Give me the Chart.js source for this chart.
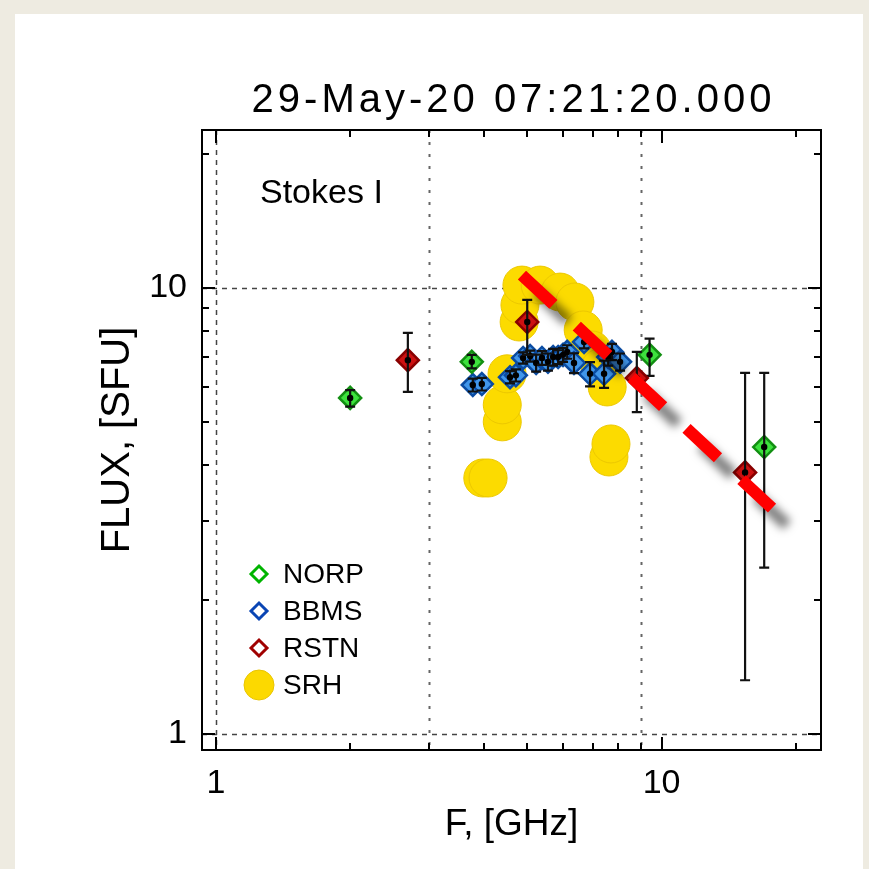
<!DOCTYPE html>
<html>
<head>
<meta charset="utf-8">
<script src="https://cdn.jsdelivr.net/npm/chart.js@4.4.1/dist/chart.umd.min.js"></script>
<style>
  html, body { margin: 0; padding: 0; background: #eeebe1; }
  #paper { position: absolute; left: 15px; top: 14px; width: 848px; height: 855px; background: #ffffff; }
  #chart { position: absolute; left: 0; top: 0; }
</style>
</head>
<body>
<div id="paper"></div>
<canvas id="chart" width="869" height="869"></canvas>
<script>
/*
  spectrum at 29-May-20 07:21:20 UT, Stokes I
  - NORP / BBMS / RSTN points with error bars
  - SRH points
  - power-law fit (red dashes)
*/

// ---- data ----
const titleText = '29-May-20 07:21:20.000';

const norpFreq = [2.0, 3.75, 9.4, 17.0];
const norpFlux = [5.67, 6.83, 7.08, 4.40];
const norpLo   = [5.42, 6.60, 6.35, 2.36];
const norpHi   = [5.90, 7.08, 7.70, 6.45];

const rstnFreq = [2.695, 4.995, 8.8, 15.4];
const rstnFlux = [6.89, 8.39, 6.28, 3.86];
const rstnLo   = [5.85, 7.08, 5.27, 1.32];
const rstnHi   = [7.93, 9.40, 7.19, 6.45];

const bbmsFreq = [3.77, 3.95, 4.57, 4.71, 4.89, 5.07, 5.23, 5.39, 5.56, 5.71,
                  5.86, 6.01, 6.14, 6.36, 6.70, 6.91, 7.43, 7.59, 7.74, 8.07];
const bbmsFlux = [6.06, 6.09, 6.31, 6.37, 6.97, 7.04, 6.79, 6.97, 6.83, 7.00,
                  7.00, 7.08, 7.19, 6.79, 7.57, 6.42, 6.42, 7.00, 7.19, 6.83];
const bbmsErr  = [0.20, 0.20, 0.20, 0.20, 0.20, 0.20, 0.30, 0.25, 0.30, 0.30,
                  0.25, 0.25, 0.25, 0.35, 0.25, 0.40, 0.45, 0.30, 0.30, 0.30];

const srhFreq = [3.97, 4.08, 4.39, 4.39, 4.50, 4.79, 4.81, 4.86, 5.34, 5.92,
                 6.39, 6.67, 6.98, 7.28, 7.55, 7.62, 7.70];
const srhFlux = [3.75, 3.75, 5.01, 5.47, 6.42, 8.39, 9.16, 10.15, 10.15, 9.79,
                 9.30, 8.05, 7.26, 6.62, 6.00, 4.18, 4.47];

const fitFreq = [4.86, 17.7];
const fitFlux = [10.69, 3.21];

// axes
const xMin = 0.93, xMax = 22.8;
const yMin = 0.921, yMax = 22.6;
const majorTicks = [1, 10];
const minorTicks = [2, 3, 4, 5, 6, 7, 8, 9, 20];
const xGuides = [1, 3, 9];
const yGuides = [1, 10];

const legendItems = [
  { label: 'NORP', color: '#00b400', shape: 'diamond' },
  { label: 'BBMS', color: '#0a45b4', shape: 'diamond' },
  { label: 'RSTN', color: '#a00000', shape: 'diamond' },
  { label: 'SRH',  color: '#fcd900', shape: 'circle' }
];

const FONT = '"Liberation Sans", Arial, sans-serif';

function toPoints(xs, ys) {
  return xs.map((x, i) => ({ x: x, y: ys[i] }));
}

/* -----------------------------
   plugins
------------------------------ */
// dotted / dashed guide lines under the data
const guides = {
  id: 'guides',
  beforeDatasetsDraw(chart) {
    const { ctx, chartArea: a, scales: { x, y } } = chart;
    ctx.save();
    ctx.strokeStyle = '#444';
    ctx.lineWidth = 1.5;
    ctx.setLineDash([5, 5]);
    yGuides.forEach(v => {
      const py = Math.round(y.getPixelForValue(v)) + 0.5;
      ctx.beginPath(); ctx.moveTo(a.left, py); ctx.lineTo(a.right, py); ctx.stroke();
    });
    xGuides.forEach((v, i) => {
      ctx.setLineDash(i === 0 ? [5, 5] : [3, 9]);
      ctx.lineWidth = i === 0 ? 1.5 : 2;
      ctx.strokeStyle = i === 0 ? '#444' : '#666';
      const px = Math.round(x.getPixelForValue(v)) + 0.5;
      ctx.beginPath(); ctx.moveTo(px, a.top); ctx.lineTo(px, a.bottom); ctx.stroke();
    });
    ctx.restore();
  }
};

// error bars + centre dot on the diamond series
const errorBars = {
  id: 'errorBars',
  afterDatasetDraw(chart, args) {
    const ds = chart.data.datasets[args.index];
    if (!ds.errLo) return;
    const { ctx, scales: { x, y } } = chart;
    ctx.save();
    ctx.strokeStyle = '#111';
    ctx.fillStyle = '#000';
    ctx.lineWidth = 2.2;
    ds.data.forEach((p, i) => {
      const px = x.getPixelForValue(p.x);
      const py = y.getPixelForValue(p.y);
      const lo = y.getPixelForValue(ds.errLo[i]);
      const hi = y.getPixelForValue(ds.errHi[i]);
      ctx.beginPath();
      ctx.moveTo(px, lo); ctx.lineTo(px, hi);
      ctx.moveTo(px - 5, lo); ctx.lineTo(px + 5, lo);
      ctx.moveTo(px - 5, hi); ctx.lineTo(px + 5, hi);
      ctx.stroke();
      ctx.beginPath();
      ctx.arc(px, py, 3.2, 0, Math.PI * 2);
      ctx.fill();
    });
    ctx.restore();
  }
};

// grey drop shadow under the fit line
const shadow = {
  id: 'shadow',
  beforeDatasetDraw(chart, args) {
    if (!chart.data.datasets[args.index].shadow) return;
    const ctx = chart.ctx;
    ctx.save();
    ctx.shadowColor = 'rgba(0,0,0,0.5)';
    ctx.shadowBlur = 8;
    ctx.shadowOffsetX = 15;
    ctx.shadowOffsetY = 17;
  },
  afterDatasetDraw(chart, args) {
    if (chart.data.datasets[args.index].shadow) chart.ctx.restore();
  }
};

// title, box, inward tick marks, label and legend
const frame = {
  id: 'frame',
  afterDraw(chart) {
    const { ctx, chartArea: a, scales: { x, y } } = chart;
    ctx.save();
    ctx.strokeStyle = '#000';
    ctx.lineWidth = 2;
    ctx.strokeRect(a.left, a.top, a.right - a.left, a.bottom - a.top);

    const tick = (v, len) => {
      const px = Math.round(x.getPixelForValue(v));
      const py = Math.round(y.getPixelForValue(v));
      ctx.beginPath();
      if (v > xMin && v < xMax) {
        ctx.moveTo(px, a.bottom); ctx.lineTo(px, a.bottom - len);
        ctx.moveTo(px, a.top); ctx.lineTo(px, a.top + len);
      }
      if (v > yMin && v < yMax) {
        ctx.moveTo(a.left, py); ctx.lineTo(a.left + len, py);
        ctx.moveTo(a.right, py); ctx.lineTo(a.right - len, py);
      }
      ctx.stroke();
    };
    majorTicks.forEach(v => tick(v, 13));
    minorTicks.forEach(v => tick(v, 7));

    ctx.fillStyle = '#000';
    ctx.textBaseline = 'middle';

    // title, centred over the plot box
    ctx.textAlign = 'center';
    ctx.font = '40px ' + FONT;
    ctx.letterSpacing = '4px';
    ctx.fillText(titleText, (a.left + a.right) / 2 + 2, 101);
    ctx.letterSpacing = '0px';

    ctx.textAlign = 'left';
    ctx.font = '34px ' + FONT;
    ctx.fillText('Stokes I', a.left + 58, 194);

    ctx.font = '28px ' + FONT;
    legendItems.forEach((it, i) => {
      const cy = 574 + i * 37;
      const cx = 259;
      if (it.shape === 'diamond') {
        ctx.strokeStyle = it.color;
        ctx.lineWidth = 3;
        ctx.beginPath();
        ctx.moveTo(cx - 8, cy); ctx.lineTo(cx, cy - 8);
        ctx.lineTo(cx + 8, cy); ctx.lineTo(cx, cy + 8);
        ctx.closePath();
        ctx.stroke();
      } else {
        ctx.fillStyle = it.color;
        ctx.strokeStyle = '#e8c400';
        ctx.lineWidth = 1;
        ctx.beginPath();
        ctx.arc(cx, cy, 15, 0, Math.PI * 2);
        ctx.fill(); ctx.stroke();
      }
      ctx.fillStyle = '#000';
      ctx.fillText(it.label, 283, cy + 1);
    });
    ctx.restore();
  }
};

/* -----------------------------
   chart
------------------------------ */
const diamond = (data, fill, border, lo, hi, order) => ({
  data: data,
  pointStyle: 'rectRot',
  pointRadius: 11,
  backgroundColor: fill,
  borderColor: border,
  borderWidth: 2.5,
  errLo: lo,
  errHi: hi,
  order: order
});

new Chart(document.getElementById('chart'), {
  type: 'scatter',
  data: {
    datasets: [
      {
        type: 'line',
        data: toPoints(fitFreq, fitFlux),
        borderColor: '#ff0000',
        borderWidth: 12,
        borderDash: [43, 32],
        borderCapStyle: 'butt',
        pointRadius: 0,
        fill: false,
        shadow: true,
        order: 0
      },
      diamond(toPoints(rstnFreq, rstnFlux), '#cc1111', '#880000', rstnLo, rstnHi, 1),
      diamond(toPoints(norpFreq, norpFlux), '#3de23d', '#128f12', norpLo, norpHi, 2),
      diamond(toPoints(bbmsFreq, bbmsFlux), '#4196ea', '#0b4ca2',
        bbmsFlux.map((v, i) => v - bbmsErr[i]), bbmsFlux.map((v, i) => v + bbmsErr[i]), 3),
      {
        data: toPoints(srhFreq, srhFlux),
        pointStyle: 'circle',
        pointRadius: 19,
        backgroundColor: '#fcdb00',
        borderColor: '#ecc800',
        borderWidth: 1,
        order: 4
      }
    ]
  },
  options: {
    responsive: false,
    animation: false,
    events: [],
    layout: { padding: { left: 80, right: 48, top: 130, bottom: 0 } },
    plugins: {
      legend: { display: false },
      tooltip: { enabled: false },
      title: { display: false }
    },
    scales: {
      x: {
        type: 'logarithmic',
        min: xMin,
        max: xMax,
        grid: { display: false },
        border: { display: false },
        ticks: {
          autoSkip: false,
          maxRotation: 0,
          padding: 5,
          color: '#000',
          font: { family: FONT, size: 34 },
          callback: v => (majorTicks.includes(v) ? String(v) : '')
        },
        title: {
          display: true,
          text: 'F, [GHz]',
          color: '#000',
          font: { family: FONT, size: 37 },
          padding: { top: 0, bottom: 22 }
        },
        afterFit: s => { s.height = 119; }
      },
      y: {
        type: 'logarithmic',
        min: yMin,
        max: yMax,
        grid: { display: false },
        border: { display: false },
        ticks: {
          autoSkip: false,
          padding: 7,
          color: '#000',
          font: { family: FONT, size: 34 },
          callback: v => (majorTicks.includes(v) ? String(v) : '')
        },
        title: {
          display: true,
          text: 'FLUX, [SFU]',
          color: '#000',
          font: { family: FONT, size: 40 },
          padding: { top: 14, bottom: 0 }
        },
        afterFit: s => { s.width = 122; }
      }
    }
  },
  plugins: [guides, shadow, errorBars, frame]
});
</script>
</body>
</html>
